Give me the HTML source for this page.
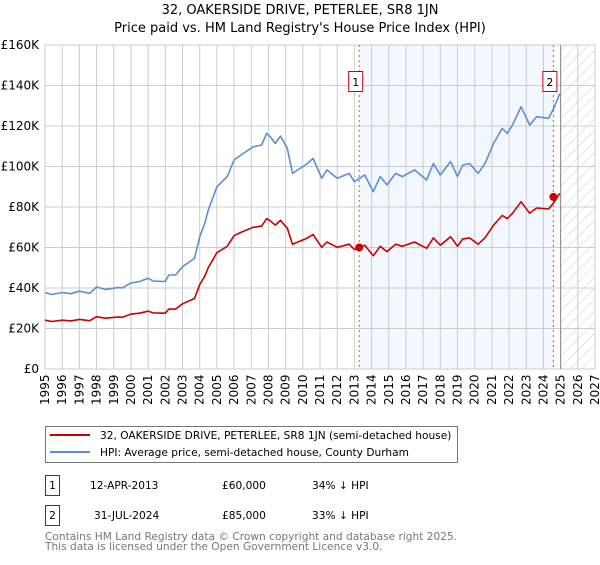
<!DOCTYPE html>
<html><head><meta charset="utf-8"><style>
body{margin:0;background:#fff;width:600px;height:560px;overflow:hidden}
svg{font-family:"DejaVu Sans","Liberation Sans",sans-serif}
</style></head><body>
<svg id="c" width="600" height="560" xmlns="http://www.w3.org/2000/svg">
<defs><pattern id="hatch" width="8" height="8" patternUnits="userSpaceOnUse" patternTransform="rotate(45)"><line x1="0" y1="0" x2="0" y2="8" stroke="#ccc" stroke-width="1"/></pattern></defs>
<text x="300" y="14" text-anchor="middle" font-size="13" fill="#000">32, OAKERSIDE DRIVE, PETERLEE, SR8 1JN</text>
<text x="300" y="32" text-anchor="middle" font-size="13" fill="#000">Price paid vs. HM Land Registry's House Price Index (HPI)</text>
<g id="plot"></g>
<rect x="45.5" y="426.5" width="412" height="36" fill="#fff" stroke="#777"/>
<line x1="50" y1="435" x2="90" y2="435" stroke="#cc0000" stroke-width="2"/>
<text x="100" y="439" font-size="10.6">32, OAKERSIDE DRIVE, PETERLEE, SR8 1JN (semi-detached house)</text>
<line x1="50" y1="452" x2="90" y2="452" stroke="#5b8fd4" stroke-width="2"/>
<text x="100" y="456" font-size="10.6">HPI: Average price, semi-detached house, County Durham</text>
<g>
<rect x="45.5" y="475.5" width="14" height="20" fill="#fff" stroke="#cc0000"/>
<text x="52.5" y="489" text-anchor="middle" font-size="10.6">1</text>
<text x="90" y="489" font-size="10.6">12-APR-2013</text>
<text x="222" y="489" font-size="10.6">£60,000</text>
<text x="312" y="489" font-size="10.6">34% ↓ HPI</text></g>
<g>
<rect x="45.5" y="505.5" width="14" height="20" fill="#fff" stroke="#cc0000"/>
<text x="52.5" y="519" text-anchor="middle" font-size="10.6">2</text>
<text x="94" y="519" font-size="10.6">31-JUL-2024</text>
<text x="222" y="519" font-size="10.6">£85,000</text>
<text x="312" y="519" font-size="10.6">33% ↓ HPI</text></g>
<text x="45" y="540" font-size="10.6" fill="#777">Contains HM Land Registry data © Crown copyright and database right 2025.</text>
<text x="45" y="550" font-size="10.6" fill="#777">This data is licensed under the Open Government Licence v3.0.</text>
</svg>
<script>
const hpiYears=[1995,1995.4,1996,1996.5,1997,1997.6,1998,1998.5,1999,1999.3,1999.5,2000,2000.5,2001,2001.3,2002,2002.2,2002.6,2003,2003.7,2004,2004.3,2004.5,2005,2005.6,2006,2006.4,2007.1,2007.6,2007.9,2008.1,2008.4,2008.7,2009.1,2009.4,2009.83,2010.2,2010.6,2011.1,2011.4,2012,2012.7,2013,2013.6,2014.1,2014.5,2014.9,2015.4,2015.8,2016.5,2017.2,2017.6,2018,2018.6,2019,2019.3,2019.7,2020.2,2020.6,2021.1,2021.6,2021.9,2022.2,2022.7,2023.2,2023.6,2024.3,2024.6,2024.95];
const hpiValues=[37.8,36.8,37.8,37.2,38.4,37.4,40.5,39.3,39.9,40.3,40,42.5,43.2,44.8,43.4,43.2,46.4,46.4,50.5,54.6,65.3,72.0,78.5,90.0,95.0,103.2,105.7,109.7,110.6,116.4,114.7,111.4,115,109,96.6,99,101,104,94.2,98.3,94.2,96.6,92.5,95.8,87.6,95,90.9,96.6,95,98.3,93.4,101.5,95.8,102.4,95,100.7,101.5,96.6,101.5,111.4,118.8,116.4,120.5,129.5,120.5,124.6,123.8,128.7,136];
const saleYears=[2013.28,2024.58];
const salePrices=[60,85];
const saleLabels=["1","2"];
const yTicks=[0,20,40,60,80,100,120,140,160];
const yTickLabels=["£0","£20K","£40K","£60K","£80K","£100K","£120K","£140K","£160K"];
const xTicks=[];for(let y=1995;y<=2027;y++)xTicks.push(y);
const X0=45,X1=595,Y0=369,Y1=45;
const xs=y=>X0+(y-1995)/32*(X1-X0);
const ys=v=>Y0-v/160*(Y0-Y1);
const NS="http://www.w3.org/2000/svg";
const g=document.getElementById('plot');
function mk(t,a){const e=document.createElementNS(NS,t);for(const k in a)e.setAttribute(k,a[k]);g.appendChild(e);return e;}
function hpiAt(t){for(let i=0;i<hpiYears.length-1;i++){if(t<=hpiYears[i+1]){const f=(t-hpiYears[i])/(hpiYears[i+1]-hpiYears[i]);return hpiValues[i]+f*(hpiValues[i+1]-hpiValues[i]);}}return hpiValues[hpiValues.length-1];}
let e=mk('rect',{x:xs(saleYears[0]),y:Y1,width:xs(saleYears[1])-xs(saleYears[0]),height:Y0-Y1,fill:'#eef3fd',opacity:0.7});


const endX=xs(2025);
e=mk('rect',{x:endX,y:Y1,width:X1-endX,height:Y0-Y1,fill:'url(#hatch)'});


xTicks.forEach(t=>{
 e=mk('line',{x1:xs(t),x2:xs(t),y1:Y1,y2:Y0,stroke:'#ccc','stroke-width':1});
 
 
 e=mk('text',{x:0,y:0,transform:`translate(${xs(t)+4},${Y0+36}) rotate(-90)`,'font-size':12});
 e.textContent=t;
 
 
});
yTicks.forEach((t,i)=>{
 e=mk('line',{x1:X0,x2:X1,y1:ys(t),y2:ys(t),stroke:'#ccc','stroke-width':1});
 
 
 e=mk('text',{x:X0-6,y:ys(t)+4,'text-anchor':'end','font-size':12});
 e.textContent=yTickLabels[i];
 
 
});
e=mk('line',{x1:endX,x2:endX,y1:Y1,y2:Y0,stroke:'#888','stroke-width':1});


saleYears.forEach((t,i)=>{
 e=mk('line',{x1:xs(t),x2:xs(t),y1:Y1,y2:Y0,stroke:'#e05050','stroke-width':1,'stroke-dasharray':'2,3'});
 
 
});
const hp=hpiYears.map((t,i)=>xs(t).toFixed(1)+','+ys(hpiValues[i]).toFixed(1)).join(' ');
e=mk('polyline',{points:hp,fill:'none',stroke:'#5b8fd4','stroke-width':1.6,'stroke-linejoin':'round'});


const ratio=salePrices[0]/hpiAt(saleYears[0]);
const rp=hpiYears.map((t,i)=>xs(t).toFixed(1)+','+ys(hpiValues[i]*ratio).toFixed(1)).join(' ');
e=mk('polyline',{points:rp,fill:'none',stroke:'#cc0000','stroke-width':1.6,'stroke-linejoin':'round'});


saleYears.forEach((t,i)=>{
 e=mk('circle',{cx:xs(t),cy:ys(salePrices[i]),r:4,fill:'#cc0000'});
 
 
 e=mk('rect',{x:xs(t)-10.5,y:71.5,width:14,height:20,fill:'#fff',stroke:'#cc0000'});
 
 
 e=mk('text',{x:xs(t)-3.5,y:86,'text-anchor':'middle','font-size':11});
 e.textContent=saleLabels[i];
 
 
});
</script>
</body></html>
